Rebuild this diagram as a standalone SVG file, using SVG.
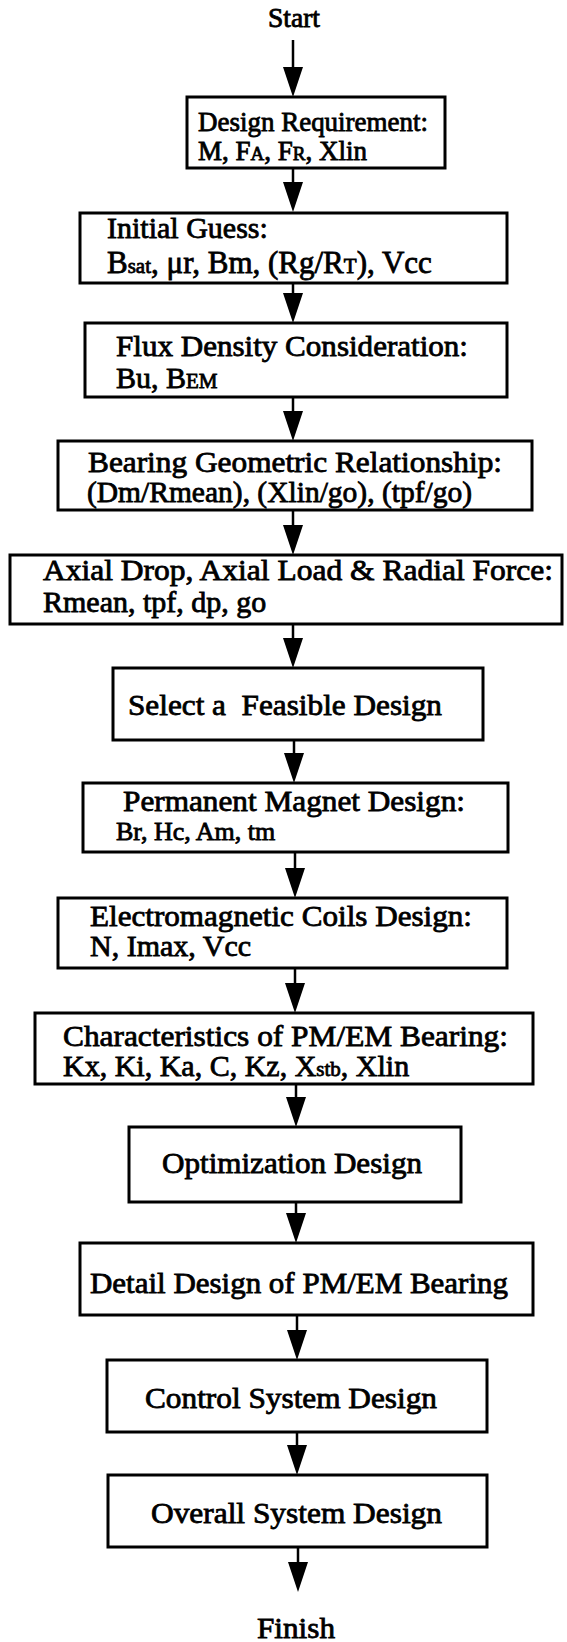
<svg xmlns="http://www.w3.org/2000/svg" width="567" height="1642" viewBox="0 0 567 1642">
<style>
  .box { fill: #fff; stroke: #000; stroke-width: 3; }
  .t { font-family: "Liberation Serif", "Times New Roman", serif; font-size: 30px; fill: #000; stroke: #000; stroke-width: 0.8; white-space: pre; }
  .t1 { font-size: 27px; }
  .sc { font-size: 21px; }
  .sc1 { font-size: 19px; }
  .conn { fill: none; stroke: #000; stroke-width: 2.5; marker-end: url(#ah); }
</style>
<defs>
  <marker id="ah" markerUnits="userSpaceOnUse" viewBox="0 0 30 20" markerWidth="30" markerHeight="20" refX="20" refY="10" orient="auto">
    <path d="M0,0 L30,10 L0,20 Z" fill="#000"/>
  </marker>
</defs>
<rect width="567" height="1642" fill="#fff"/>

<g id="connectors">
  <path class="conn" d="M293,40 V87"/>
  <path class="conn" d="M293,168 V202"/>
  <path class="conn" d="M293,283 V313"/>
  <path class="conn" d="M293,397 V431"/>
  <path class="conn" d="M293,510 V545"/>
  <path class="conn" d="M293,624 V658"/>
  <path class="conn" d="M294,740 V773"/>
  <path class="conn" d="M295,852 V888"/>
  <path class="conn" d="M295,968 V1003"/>
  <path class="conn" d="M296,1084 V1117"/>
  <path class="conn" d="M296,1202 V1233"/>
  <path class="conn" d="M297,1315 V1350"/>
  <path class="conn" d="M297,1432 V1465"/>
  <path class="conn" d="M298,1547 V1582"/>
</g>

<g id="start"><text class="t t1" x="268" y="27" textLength="52" lengthAdjust="spacingAndGlyphs">Start</text></g>

<g id="n1">
  <rect class="box" x="187" y="97" width="258" height="71"/>
  <text class="t t1" x="198" y="131" textLength="230" lengthAdjust="spacingAndGlyphs">Design Requirement:</text>
  <text class="t t1" x="198" y="160">M, F<tspan class="sc1">A</tspan>, F<tspan class="sc1">R</tspan>, Xlin</text>
</g>

<g id="n2">
  <rect class="box" x="80" y="213" width="427" height="70"/>
  <text class="t" x="107" y="238">Initial Guess:</text>
  <text class="t" x="107" y="273" style="font-size:31px">B<tspan class="sc">sat</tspan>, μr, Bm, (Rg/R<tspan class="sc">T</tspan>), Vcc</text>
</g>

<g id="n3">
  <rect class="box" x="85" y="323" width="422" height="74"/>
  <text class="t" x="116" y="356" textLength="352" lengthAdjust="spacingAndGlyphs">Flux Density Consideration:</text>
  <text class="t" x="116" y="388">Bu, B<tspan class="sc">EM</tspan></text>
</g>

<g id="n4">
  <rect class="box" x="58" y="441" width="474" height="69"/>
  <text class="t" x="88" y="472" textLength="414" lengthAdjust="spacingAndGlyphs">Bearing Geometric Relationship:</text>
  <text class="t" x="87" y="502" textLength="385" lengthAdjust="spacingAndGlyphs">(Dm/Rmean), (Xlin/go), (tpf/go)</text>
</g>

<g id="n5">
  <rect class="box" x="10" y="555" width="552" height="69"/>
  <text class="t" x="43" y="580" textLength="510" lengthAdjust="spacingAndGlyphs">Axial Drop, Axial Load &amp; Radial Force:</text>
  <text class="t" x="43" y="612">Rmean, tpf, dp, go</text>
</g>

<g id="n6">
  <rect class="box" x="113" y="668" width="370" height="72"/>
  <text class="t" x="128" y="715" textLength="314" lengthAdjust="spacingAndGlyphs">Select a  Feasible Design</text>
</g>

<g id="n7">
  <rect class="box" x="83" y="783" width="425" height="69"/>
  <text class="t" x="123" y="811" textLength="342" lengthAdjust="spacingAndGlyphs">Permanent Magnet Design:</text>
  <text class="t" x="116" y="840" style="font-size:26px">Br, Hc, Am, tm</text>
</g>

<g id="n8">
  <rect class="box" x="58" y="898" width="449" height="70"/>
  <text class="t" x="90" y="926" textLength="382" lengthAdjust="spacingAndGlyphs">Electromagnetic Coils Design:</text>
  <text class="t" x="90" y="956">N, Imax, Vcc</text>
</g>

<g id="n9">
  <rect class="box" x="35" y="1013" width="498" height="71"/>
  <text class="t" x="63" y="1046" textLength="445" lengthAdjust="spacingAndGlyphs">Characteristics of PM/EM Bearing:</text>
  <text class="t" x="63" y="1076">Kx, Ki, Ka, C, Kz, X<tspan class="sc">stb</tspan>, Xlin</text>
</g>

<g id="n10">
  <rect class="box" x="129" y="1127" width="332" height="75"/>
  <text class="t" x="162" y="1173" textLength="260" lengthAdjust="spacingAndGlyphs">Optimization Design</text>
</g>

<g id="n11">
  <rect class="box" x="80" y="1243" width="453" height="72"/>
  <text class="t" x="90" y="1293" textLength="418" lengthAdjust="spacingAndGlyphs">Detail Design of PM/EM Bearing</text>
</g>

<g id="n12">
  <rect class="box" x="107" y="1360" width="380" height="72"/>
  <text class="t" x="145" y="1408" textLength="292" lengthAdjust="spacingAndGlyphs">Control System Design</text>
</g>

<g id="n13">
  <rect class="box" x="108" y="1475" width="379" height="72"/>
  <text class="t" x="151" y="1523" textLength="291" lengthAdjust="spacingAndGlyphs">Overall System Design</text>
</g>

<g id="finish"><text class="t" x="257" y="1638" textLength="78" lengthAdjust="spacingAndGlyphs">Finish</text></g>
</svg>
